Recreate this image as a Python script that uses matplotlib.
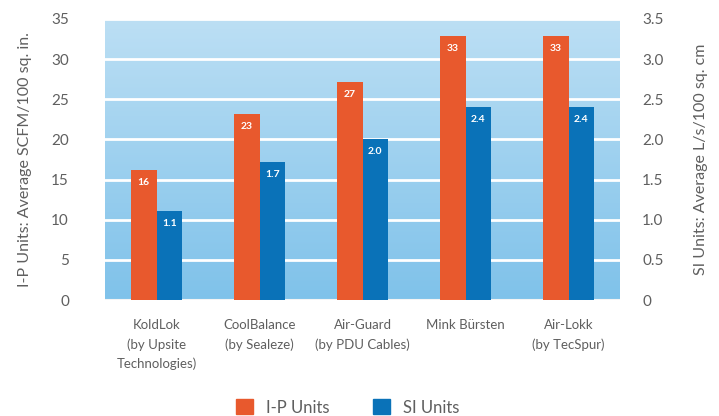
import matplotlib
matplotlib.use("Agg")
import matplotlib.pyplot as plt
import numpy as np
from matplotlib.colors import LinearSegmentedColormap
from matplotlib.patches import Patch

categories = ["KoldLok\n(by Upsite\nTechnologies)", "CoolBalance\n(by Sealeze)",
              "Air-Guard\n(by PDU Cables)", "Mink Bürsten", "Air-Lokk\n(by TecSpur)"]
ip_values = [16.2, 23.2, 27.2, 32.9, 32.9]
ip_labels = ["16", "23", "27", "33", "33"]
si_values = [1.11, 1.72, 2.01, 2.41, 2.41]
si_labels = ["1.1", "1.7", "2.0", "2.4", "2.4"]
left_ticks = [0, 5, 10, 15, 20, 25, 30, 35]
right_ticks = [0, 0.5, 1.0, 1.5, 2.0, 2.5, 3.0, 3.5]
right_ticklabels = ["0", "0.5", "1.0", "1.5", "2.0", "2.5", "3.0", "3.5"]

plt.rcParams['font.family'] = ['Lato', 'DejaVu Sans']
gray = "#5f5f5f"
orange = "#e8592d"
blue = "#0a72b8"

fig = plt.figure(figsize=(7.19, 4.16), dpi=100)
ax = fig.add_axes([105/719, 1-300/416, 515/719, 281/416])
ax2 = ax.twinx()

x = np.arange(len(categories))
w = 0.25

ax.set_xlim(-0.5, 4.5)
ax.set_ylim(0, 35)
ax2.set_ylim(0, 3.5)

cmap = LinearSegmentedColormap.from_list("bg", ["#7fc2ea", "#bcdff4"])
grad = np.linspace(0, 1, 256).reshape(-1, 1)
ax.imshow(grad, cmap=cmap, origin="lower", extent=[-0.5, 4.5, 0, 35],
          aspect="auto", zorder=0)

for t in left_ticks[1:]:
    ax.axhline(t, color="white", lw=2, zorder=1)
ax.axhline(0, color="#f4f4f4", lw=1.5, zorder=1)

b1 = ax.bar(x - w/2, ip_values, w, color=orange, zorder=2)
b2 = ax2.bar(x + w/2, si_values, w, color=blue, zorder=2)

for xi, v, lab in zip(x, ip_values, ip_labels):
    ax.text(xi - w/2, v - 1.0, lab, ha="center", va="top", color="white",
            fontsize=7.5, fontweight="bold", zorder=3)
for xi, v, lab in zip(x, si_values, si_labels):
    ax2.text(xi + w/2, v - 0.1, lab, ha="center", va="top", color="white",
             fontsize=7.5, fontweight="bold", zorder=3)

ax.set_yticks(left_ticks)
ax.set_yticklabels([str(t) for t in left_ticks])
ax2.set_yticks(right_ticks)
ax2.set_yticklabels(right_ticklabels)
ax.set_xticks(x)
ax.set_xticklabels(categories, linespacing=1.65)

for a in (ax, ax2):
    for s in a.spines.values():
        s.set_visible(False)
    a.tick_params(length=0, colors=gray, labelsize=11)
ax.tick_params(axis="y", pad=26)
ax2.tick_params(axis="y", pad=16)
ax.tick_params(axis="x", pad=14, labelsize=9.5)

ax.set_ylabel("I-P Units: Average SCFM/100 sq. in.", color=gray, fontsize=11.5, labelpad=14)
ax2.set_ylabel("SI Units: Average L/s/100 sq. cm", color=gray, fontsize=11.5, labelpad=22)

handles = [Patch(color=orange, label="I-P Units"), Patch(color=blue, label="SI Units")]
fig.legend(handles=handles, loc="lower center", bbox_to_anchor=(0.484, -0.035), ncol=2,
           frameon=False, fontsize=12, labelcolor=gray, handlelength=1.0,
           handleheight=1.0, columnspacing=2.6, handletextpad=0.8)

fig.savefig("out.png", dpi=100)
